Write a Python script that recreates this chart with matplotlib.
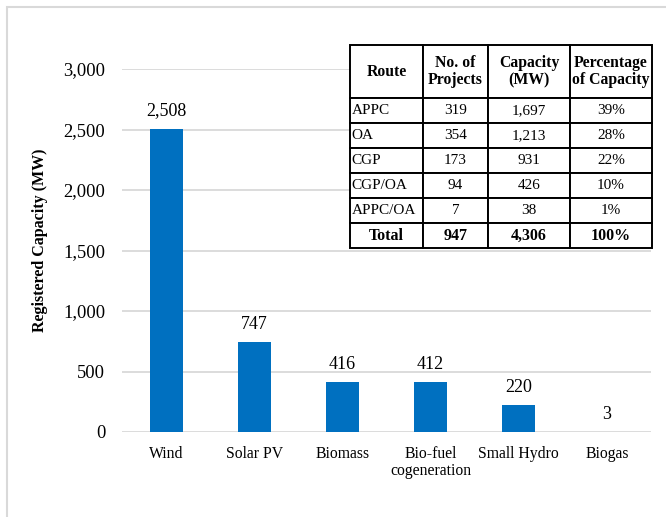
import matplotlib
matplotlib.use("Agg")
import matplotlib.pyplot as plt
from matplotlib.patches import Rectangle

plt.rcParams["font.family"] = ["Liberation Serif", "DejaVu Serif"]

# registered capacity by technology (MW)
technologies = ["Wind", "Solar PV", "Biomass", "Bio-fuel\ncogeneration",
                "Small Hydro", "Biogas"]
capacity_mw = [2508, 747, 416, 412, 220, 3]
yticks = [0, 500, 1000, 1500, 2000, 2500, 3000]

# breakdown by route
routes = ["APPC", "OA", "CGP", "CGP/OA", "APPC/OA", "Total"]
n_projects = ["319", "354", "173", "94", "7", "947"]
route_capacity = ["1,697", "1,213", "931", "426", "38", "4,306"]
route_share = ["39%", "28%", "22%", "10%", "1%", "100%"]
headers = ["Route", "No. of\nProjects", "Capacity\n(MW)", "Percentage\nof Capacity"]

BLUE = "#0070C0"
GRID = "#D9D9D9"

W, H = 666, 517
fig = plt.figure(figsize=(W / 100, H / 100), dpi=100)

# light frame round the chart area
fig.patches.append(Rectangle((7 / W, -0.1), 1.2, (H - 7) / H + 0.1,
                             transform=fig.transFigure, fill=False,
                             edgecolor=GRID, linewidth=1.5))

ax = fig.add_axes([122 / W, (H - 432) / H, 529 / W, 363 / H])
x = range(len(technologies))
bars = ax.bar(x, capacity_mw, width=0.375, color=BLUE, zorder=3)
for b, v in zip(bars, capacity_mw):
    ax.annotate(f"{v:,}", (b.get_x() + b.get_width() / 2, v),
                xytext=(0, 6.5), textcoords="offset points",
                ha="center", va="bottom", fontsize=13)

ax.set_xlim(-0.5, len(technologies) - 0.5)
ax.set_ylim(0, 3000)
ax.set_yticks(yticks)
ax.set_yticklabels([f"{t:,}" for t in yticks], fontsize=13.3)
ax.set_xticks(list(x))
ax.set_xticklabels(technologies, fontsize=11.3, va="top", linespacing=1.1)
ax.tick_params(length=0, pad=12)
ax.tick_params(axis="x", pad=10)
ax.yaxis.grid(True, color=GRID, linewidth=1.3, zorder=0)
for s in ax.spines.values():
    s.set_visible(False)
ax.set_ylabel("Registered Capacity (MW)", fontsize=11.5, fontweight="bold")
ax.yaxis.set_label_coords(-0.140, 0.529)

# summary table by route, top right
tax = fig.add_axes([350 / W, (H - 248) / H, 302 / W, 203 / H])
tax.axis("off")
rows = [[r, n, c, p] for r, n, c, p in
        zip(routes, n_projects, route_capacity, route_share)]
tbl = tax.table(cellText=rows, colLabels=headers, bbox=[0, 0, 1, 1],
                colWidths=[73, 65, 82, 82], cellLoc="center")
tbl.auto_set_font_size(False)
tbl.set_fontsize(11)
for (r, c), cell in tbl.get_celld().items():
    cell.set_linewidth(1.4)
    cell.set_edgecolor("black")
    cell.set_height(53 if r == 0 else 25)
    txt = cell.get_text()
    if r == 0:
        txt.set_fontweight("bold")
        txt.set_fontsize(11.3)
        txt.set_linespacing(1.15)
    elif r == len(rows):
        txt.set_fontweight("bold")
        txt.set_fontsize(11.5)
    elif c == 0:
        cell.set_text_props(ha="left")
        cell.PAD = 0.02

fig.savefig("out.png", dpi=100)
